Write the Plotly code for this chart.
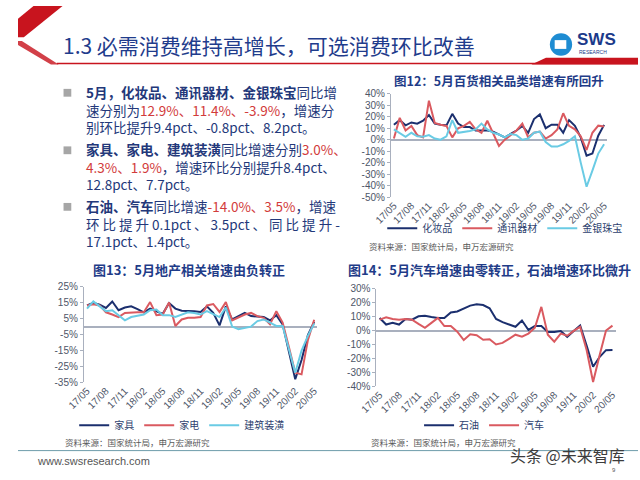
import plotly.graph_objects as go

# ---------------- data ----------------
months = ["17/05","17/06","17/07","17/08","17/09","17/10","17/11","17/12","18/01","18/02","18/03","18/04",
          "18/05","18/06","18/07","18/08","18/09","18/10","18/11","18/12","19/01","19/02","19/03","19/04",
          "19/05","19/06","19/07","19/08","19/09","19/10","19/11","19/12","20/01","20/02","20/03","20/04","20/05"]
tick_months = ["17/05","17/08","17/11","18/02","18/05","18/08","18/11","19/02","19/05","19/08","19/11","20/02","20/05"]

# 图12
cosmetics = [13,17,12.5,15,14,16.5,21.5,14,13,12.5,22.5,14,11,11,8,8,8,7,4.5,2,5,8,12,6,18,22,10,13,13,6,17,12,2,-14,-12,3.5,12.9]
telecom   = [1,19,8,12,4,2,34,14.5,13,12,2,10,12,15.5,9,6,16.5,6,-5.5,0,4,8,14,2,6,7,1,4,9,23,12,9,3,-9,6,12.2,11.4]
jewelry   = [9,6,2.5,6,3,2.5,4,1,0,3,17,6,6.5,7.5,9,14,9,6,4.5,2,5,4,0,1,6,7,-2,-6,-6,-4,-1,3,-20,-41,-27,-12.1,-3.9]
# 图13
furniture  = [13.3,15,13.8,11.7,15.8,10.3,12,12.7,11,9,11.3,9.7,8,14.8,11.3,10,10,9.7,9.2,12.7,8.6,0.8,12.7,4.5,6.6,8.6,6.6,6.2,6,3.9,7.2,1.4,-16,-33,-21,-5.4,3.0]
appliance  = [13.3,14,13.3,9,7.6,6,8.6,9,9,9,15.4,7.2,7.6,15.2,0.4,4.5,5.5,5.5,6,13.3,14.2,9.2,15.4,3.9,6,7.6,8.6,6.6,5.5,1.4,9.7,2.5,-13,-29,-30,-8.5,4.3]
decoration = [11.3,15.8,12.7,9.7,10.3,7,3.9,6,7,7.6,10.3,10.7,7.2,7.2,6,7.6,9,8.6,7.6,9.7,7.6,6,12,0,-1.6,-0.6,0,3.5,4.5,2.5,0.4,0.4,-15,-29,-15,-5.8,1.9]
# 图14
oil  = [9,4.3,5.5,4.3,8.3,7.8,10.2,10.6,9.7,9,9,13,13.7,16,17.9,18.8,18.3,16,8.3,6,4.3,2.7,7.2,0.4,3.2,3.2,-1,-1,-0.3,-4.5,-0.3,3.7,-10.7,-26,-19,-14.1,-14.0]
auto = [7.8,9.5,8.3,7.8,8.3,7.8,4.8,2,5.5,9,3.2,3.2,-0.8,-6.8,-2.7,-3.4,-6.6,-6.2,-10,-8.9,-6,-3,-4.4,-2.2,2,17,-3,-8,-2.2,-3.7,-0.3,2.6,-14,-37,-18,0.0,3.5]

NAVY = "#1B2F6E"
RED = "#DA5A60"
LBLUE = "#6ACBE4"
CJK = "Noto Sans CJK SC"
NUMF = "Liberation Sans, Arial, Noto Sans CJK SC"
TXT = "#23387A"
REDT = "#D23B3B"

W, H = 640, 480
def X(px): return px / W
def Y(py): return 1 - py / H

fig = go.Figure()

def add(series, name, color, xa, ya, leg):
    fig.add_trace(go.Scatter(x=months, y=series, name=name, mode="lines",
                             line=dict(color=color, width=2), xaxis=xa, yaxis=ya, legend=leg))

add(cosmetics, "化妆品", NAVY, "x", "y", "legend")
add(telecom, "通讯器材", RED, "x", "y", "legend")
add(jewelry, "金银珠宝", LBLUE, "x", "y", "legend")
add(furniture, "家具", NAVY, "x2", "y2", "legend2")
add(appliance, "家电", RED, "x2", "y2", "legend2")
add(decoration, "建筑装潢", LBLUE, "x2", "y2", "legend2")
add(oil, "石油", NAVY, "x3", "y3", "legend3")
add(auto, "汽车", RED, "x3", "y3", "legend3")

AX = "#A9B0BE"
tickfont = dict(family=NUMF, size=10, color="#4E5668")

def xax(dom, anchor):
    return dict(domain=dom, anchor=anchor, type="category", range=[-0.5, 36.5],
                tickvals=tick_months, ticktext=tick_months, tickangle=-45,
                showline=False, showgrid=False, zeroline=False, ticks="",
                tickfont=tickfont)

def yax(dom, anchor, rng, vals):
    return dict(domain=dom, anchor=anchor, range=rng, tickvals=vals,
                ticktext=[f"{v}%" for v in vals], showline=True, linecolor=AX, linewidth=1,
                ticks="outside", ticklen=3, tickcolor=AX, showgrid=False,
                zeroline=True, zerolinecolor=AX, zerolinewidth=1.5, tickfont=tickfont)

layout = dict(
    width=W, height=H, margin=dict(l=0, r=0, t=0, b=0),
    paper_bgcolor="white", plot_bgcolor="white",
    xaxis=xax([X(385), X(608)], "y"),
    yaxis=yax([Y(196), Y(90)], "x", [-50, 40], [40, 30, 20, 10, 0, -10, -20, -30, -40, -50]),
    xaxis2=xax([X(68), X(309)], "y2"),
    yaxis2=yax([Y(386), Y(288)], "x2", [-35, 25], [25, 15, 5, -5, -15, -25, -35]),
    xaxis3=xax([X(370), X(617)], "y3"),
    yaxis3=yax([Y(390), Y(290)], "x3", [-40, 30], [30, 20, 10, 0, -10, -20, -30, -40]),
    showlegend=True,
)
legfont = dict(family=CJK, size=10, color="#2E3F6E")
def leg(x, y):
    return dict(x=X(x), y=Y(y), xanchor="left", yanchor="middle", orientation="h",
                font=legfont, bgcolor="rgba(0,0,0,0)", tracegroupgap=0)
layout["legend"] = leg(376, 228)
layout["legend2"] = leg(58, 430)
layout["legend3"] = leg(414, 430)
fig.update_layout(**layout)

ann = []
def text(x, y, s, size, color=TXT, anchor="left", family=CJK, yanchor="middle"):
    ann.append(dict(x=X(x), y=Y(y), xref="paper", yref="paper", text=s, showarrow=False,
                    xanchor=anchor, yanchor=yanchor, align="left",
                    font=dict(family=family, size=size, color=color)))

# header
text(44, 40, "1.3 必需消费维持高增长，可选消费环比改善", 21, "#1F3C8C")
text(575, 34, "<b>SWS</b>", 17, "#1B3A8A", family="Liberation Sans, Arial")
text(577, 47, "RESEARCH", 5, "#1B3A8A", family="Liberation Sans, Arial")

# bullets (one block per bullet)
def r(s): return f"<span style='color:{REDT}'>{s}</span>"
bullets = [
    (106, ["<b>5月，化妆品、通讯器材、金银珠宝</b>同比增",
           "速分别为" + r("12.9%、11.4%、-3.9%") + "，增速分",
           "别环比提升9.4pct、-0.8pct、8.2pct。"]),
    (165, ["<b>家具、家电、建筑装潢</b>同比增速分别" + r("3.0%、"),
           r("4.3%、1.9%") + "，增速环比分别提升8.4pct、",
           "12.8pct、7.7pct。"]),
    (223, ["<b>石油、汽车</b>同比增速" + r("-14.0%、3.5%") + "，增速",
           "环 比 提 升 0.1pct 、 3.5pct 、 同 比 提 升 -",
           "17.1pct、1.4pct。"]),
]
for y, ls in bullets:
    text(68, y, "<br>".join(ls), 13.5)

# chart titles
text(497, 76, "<b>图12：5月百货相关品类增速有所回升</b>", 12.5, "#1F3C88", anchor="center")
text(177, 270, "<b>图13：5月地产相关增速由负转正</b>", 13, "#1F3C88", anchor="center")
text(487, 270, "<b>图14：5月汽车增速由零转正，石油增速环比微升</b>", 13, "#1F3C88", anchor="center")

# sources
text(360, 246, "资料来源：国家统计局，申万宏源研究", 8.5, "#595959")
text(46, 447, "资料来源：国家统计局，申万宏源研究", 8.5, "#595959")
text(362, 447, "资料来源：国家统计局，申万宏源研究", 8.5, "#595959")

# footer
text(18, 467, "www.swsresearch.com", 11, "#555555", family="Liberation Sans, Arial")
text(506, 460, "头条 @未来智库", 16, "#3C3C3C")
text(611, 476, "9", 6, "#555555", family="Liberation Sans, Arial")

fig.update_layout(annotations=ann)

shapes = []
def path(pts, fill):
    d = "M " + " L ".join(f"{X(a)},{Y(b)}" for a, b in pts) + " Z"
    shapes.append(dict(type="path", path=d, xref="paper", yref="paper", fillcolor=fill, line=dict(width=0)))

# header decorations
path([(16, 0), (46, 0), (6, 32), (0, 32), (0, 13)], "#C8141E")
path([(0, 36), (4, 36), (42, 60), (34, 60), (0, 40)], "#D24048")
shapes.append(dict(type="line", xref="paper", yref="paper", x0=X(40), x1=X(640), y0=Y(59), y1=Y(59),
                   line=dict(color="#C8141E", width=1.5)))
path([(530, 60), (640, 60), (640, 53), (545, 53)], "#C8141E")
# logo icon
shapes.append(dict(type="circle", xref="paper", yref="paper", x0=X(549), x1=X(572), y0=Y(51), y1=Y(28),
                   fillcolor="#1E8CD2", line=dict(width=0)))
shapes.append(dict(type="rect", xref="paper", yref="paper", x0=X(554), x1=X(566), y0=Y(44), y1=Y(35),
                   fillcolor="white", line=dict(width=0)))
# bullets
for yc in (89, 148, 206):
    shapes.append(dict(type="rect", xref="paper", yref="paper", x0=X(47), x1=X(55), y0=Y(yc + 4), y1=Y(yc - 4),
                       fillcolor="#A6A6A6", line=dict(width=0)))
# footer line
shapes.append(dict(type="line", xref="paper", yref="paper", x0=0, x1=1, y0=Y(456), y1=Y(456),
                   line=dict(color="#6E9CAA", width=1)))
fig.update_layout(shapes=shapes)

fig.write_html("out.html")
